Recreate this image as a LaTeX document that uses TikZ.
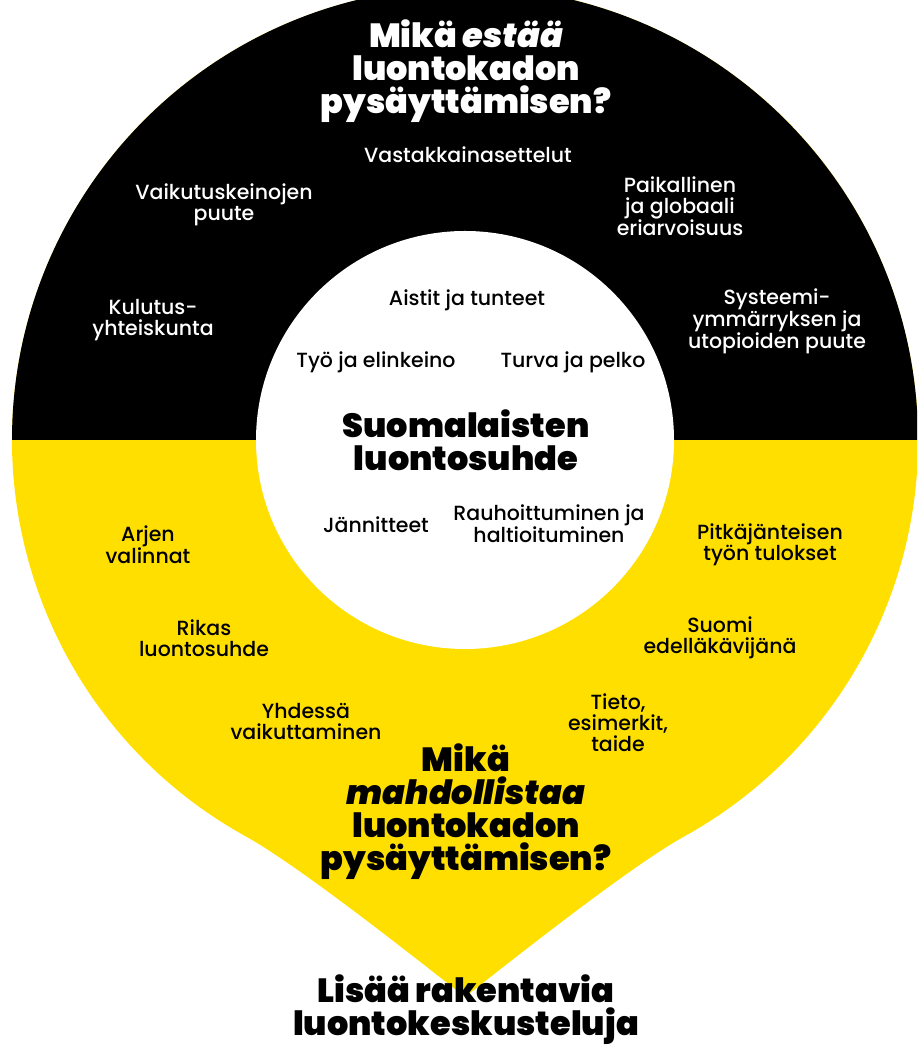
\documentclass[tikz,border=0pt]{standalone}
\usepackage{fontspec}
\setmainfont{Poppins}
\newfontfamily\bodyfont{Poppins Medium}
\newfontfamily\headfont{Poppins Black}[ItalicFont={Poppins Black Italic}]
\definecolor{sunyellow}{RGB}{255,223,0}

\begin{document}
\begin{tikzpicture}[x=1pt, y=1pt,
  label/.style={align=center, font=\bodyfont\fontsize{20.5}{21}\selectfont},
  onblack/.style={label, text=white},
  heading/.style={align=center, font=\headfont\fontsize{33.5}{33}\selectfont}]

\useasboundingbox (0,0) rectangle (917,1048);
\clip (0,0) rectangle (917,1048);

\coordinate (c) at (465,608);
\coordinate (tip) at (465,51);
\coordinate (dropL) at (245.4,211.8);
\coordinate (dropR) at (684.6,211.8);

% Drop shape
\fill[sunyellow] (tip) .. controls (418,88) and (298,183) .. (dropL)
  arc[start angle=241, end angle=-61, radius=453]
  .. controls (632,183) and (512,88) .. (tip) -- cycle;
% Upper half
\fill[black] ([xshift=-453pt]c) arc[start angle=180, end angle=0, radius=453] -- cycle;
% Inner circle
\fill[white] (c) circle[radius=209];

% Upper half: what prevents
\node[heading, text=white] (estaa) at (466,977) {Mikä \textit{estää}\\luontokadon\\pysäyttämisen?};
\node[onblack] (vasta) at (468,893) {Vastakkainasettelut};
\node[onblack] (vaikutus) at (224,843) {Vaikutuskeinojen\\puute};
\node[onblack] (eriarvo) at (680,842) {Paikallinen\\ja globaali\\eriarvoisuus};
\node[onblack] (kulutus) at (153,728) {Kulutus-\\yhteiskunta};
\node[onblack] (systeemi) at (777,727) {Systeemi-\\ymmärryksen ja\\utopioiden puute};

% Inner circle
\node[label] (aistit) at (467,748) {Aistit ja tunteet};
\node[label] (tyo) at (376,686) {Työ ja elinkeino};
\node[label] (turva) at (573,686) {Turva ja pelko};
\node[heading] (suhde) at (466,608) {Suomalaisten\\luontosuhde};
\node[label] (jannite) at (376,523) {Jännitteet};
\node[label] (rauha) at (549,524) {Rauhoittuminen ja\\haltioituminen};

% Lower half: what enables
\node[label] (arjen) at (148,503) {Arjen\\valinnat};
\node[label] (pitka) at (770,503) {Pitkäjänteisen\\työn tulokset};
\node[label] (rikas) at (204,410) {Rikas\\luontosuhde};
\node[label] (suomi) at (720,410) {Suomi\\edelläkävijänä};
\node[label] (yhdessa) at (306,326) {Yhdessä\\vaikuttaminen};
\node[label] (tieto) at (618,325) {Tieto,\\esimerkit,\\taide};
\node[heading] (mahd) at (466,236) {Mikä\\\textit{mahdollistaa}\\luontokadon\\pysäyttämisen?};

% Outcome
\node[heading] (lisaa) at (466,38) {Lisää rakentavia\\luontokeskusteluja};

\end{tikzpicture}
\end{document}
